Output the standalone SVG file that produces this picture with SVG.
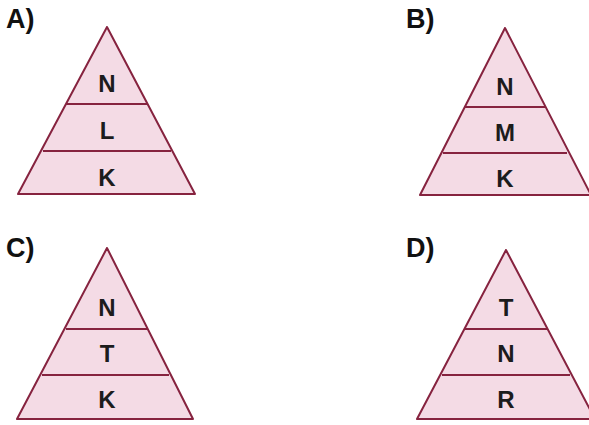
<svg xmlns="http://www.w3.org/2000/svg" width="589" height="425" viewBox="0 0 589 425">
<style>
.tri{fill:#f4dbe5;stroke:#86233f;stroke-width:2;stroke-linejoin:round}
.div{stroke:#86233f;stroke-width:2;fill:none}
.lay{font-family:"Liberation Sans",Arial,sans-serif;font-weight:bold;font-size:24px;fill:#1c1c1c;text-anchor:middle}
.opt{font-family:"Liberation Sans",Arial,sans-serif;font-weight:bold;font-size:27px;fill:#111}
</style>
<rect width="589" height="425" fill="#ffffff"/>
<g id="optA">
<text class="opt" x="6" y="28">A)</text>
<polygon class="tri" points="107,27 18,194 195,194"/>
<line class="div" x1="66" y1="104" x2="148" y2="104"/>
<line class="div" x1="43" y1="151" x2="171" y2="151"/>
<text class="lay" x="107" y="92">N</text>
<text class="lay" x="107" y="139">L</text>
<text class="lay" x="107" y="186">K</text>
</g>
<g id="optB">
<text class="opt" x="406" y="28">B)</text>
<polygon class="tri" points="505,28 420,195 591,195"/>
<line class="div" x1="464" y1="107" x2="546" y2="107"/>
<line class="div" x1="443" y1="153" x2="567" y2="153"/>
<text class="lay" x="505" y="95">N</text>
<text class="lay" x="505" y="141">M</text>
<text class="lay" x="505" y="187">K</text>
</g>
<g id="optC">
<text class="opt" x="6" y="257">C)</text>
<polygon class="tri" points="107,248 17,419 193,419"/>
<line class="div" x1="66" y1="329" x2="147" y2="329"/>
<line class="div" x1="42" y1="375" x2="169" y2="375"/>
<text class="lay" x="107" y="316">N</text>
<text class="lay" x="107" y="362">T</text>
<text class="lay" x="107" y="408">K</text>
</g>
<g id="optD">
<text class="opt" x="406" y="257">D)</text>
<polygon class="tri" points="506,250 417,419 595,419"/>
<line class="div" x1="465" y1="329" x2="547" y2="329"/>
<line class="div" x1="442" y1="375" x2="570" y2="375"/>
<text class="lay" x="506" y="316">T</text>
<text class="lay" x="506" y="362">N</text>
<text class="lay" x="506" y="408">R</text>
</g>
</svg>
